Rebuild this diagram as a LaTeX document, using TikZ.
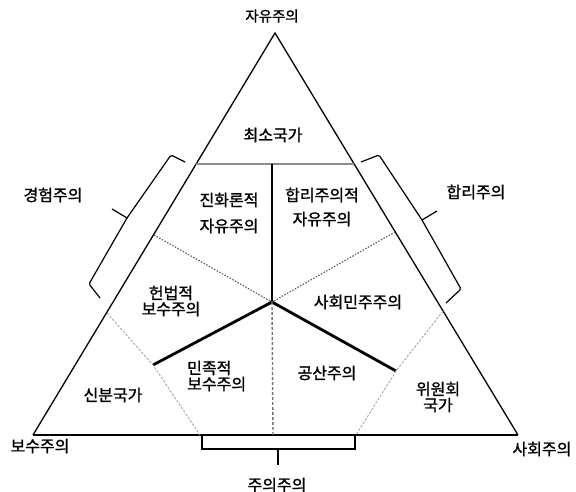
\documentclass[tikz,border=0pt]{standalone}
\usepackage{fontspec}
\newfontfamily\kr[FakeBold=1.2]{Noto Sans CJK KR}
\begin{document}
\begin{tikzpicture}[x=1pt,y=-1pt,
  lbl/.style={font=\kr\fontsize{16}{16}\selectfont, inner sep=0pt, align=center},
  side/.style={line width=1.3pt, black},
  base/.style={line width=1.8pt, black},
  topbar/.style={line width=2pt, black!45},
  axis/.style={line width=1.6pt, black},
  heavy/.style={line width=2.8pt, black},
  dotline/.style={line width=1.1pt, black!65, dash pattern=on 1.5pt off 1.5pt},
  dashline/.style={line width=1.4pt, black!55, dash pattern=on 3pt off 2pt},
  gline/.style={line width=0.9pt, black!35, dash pattern=on 2.5pt off 1.5pt},
  brace/.style={line width=1.2pt, black, rounded corners=1.5pt}]
\useasboundingbox (0,0) rectangle (576,492);
% key points
\coordinate (A) at (275,33);
\coordinate (L) at (33,435);
\coordinate (R) at (518,435);
\coordinate (HL) at (196,164);
\coordinate (HR) at (354,164);
\coordinate (HT) at (272,164);
\coordinate (C) at (272,302);
\coordinate (BL) at (153,365);
\coordinate (BR) at (396,371);
\coordinate (DL) at (154,235);
\coordinate (DR) at (395,232);
\coordinate (GL) at (107,313);
\coordinate (GR) at (443,311);
\coordinate (BB) at (273,435);
\coordinate (GLb) at (200,435);
\coordinate (GRb) at (356,435);
% triangle
\draw[side] (L) -- (A) -- (R);
\draw[base] (L) -- (R);
% inner lines
\draw[topbar] (HL) -- (HR);
\draw[axis] (HT) -- (C);
\draw[heavy] (BL) -- (C) -- (BR);
\draw[dotline] (DL) -- (C) -- (DR);
\draw[dashline] (C) -- (BB);
\draw[gline] (GL) -- (BL) -- (GLb);
\draw[gline] (GR) -- (BR) -- (GRb);
% left brace
\coordinate (lb1) at (185,162);
\coordinate (lb2) at (171,155);
\coordinate (lbt) at (127,218);
\coordinate (lbx) at (112,209);
\coordinate (lb3) at (89,284);
\coordinate (lb4) at (100,298);
\draw[brace] (lb1) -- (lb2) -- (lbt) -- (lb3) -- (lb4);
\draw[brace] (lbx) -- (lbt);
% right brace
\coordinate (rb1) at (361,162);
\coordinate (rb2) at (379,155);
\coordinate (rbt) at (422,220);
\coordinate (rbx) at (437,211);
\coordinate (rb3) at (461,289);
\coordinate (rb4) at (446,303);
\draw[brace] (rb1) -- (rb2) -- (rbt) -- (rb3) -- (rb4);
\draw[brace] (rbx) -- (rbt);
% bottom bracket
\coordinate (bb1) at (202,435);
\coordinate (bb2) at (202,449);
\coordinate (bb3) at (355,449);
\coordinate (bb4) at (355,435);
\coordinate (bbt) at (278,449);
\coordinate (bbx) at (278,465);
\draw[line width=1.2pt] (bb1) -- (bb2) -- (bb3) -- (bb4);
\draw[line width=1.6pt] (bbt) -- (bbx);
% labels
\node[lbl, font=\kr\fontsize{14.5}{15}\selectfont] (t1) at (272,16) {자유주의};
\node[lbl] (t2) at (273,135) {최소국가};
\node[lbl] (t3) at (53,195) {경험주의};
\node[lbl] (t4) at (476,192) {합리주의};
\node[lbl, font=\kr\fontsize{16}{26}\selectfont] (t5) at (229,213) {진화론적\\자유주의};
\node[lbl, font=\kr\fontsize{16}{24}\selectfont] (t6) at (322,207) {합리주의적\\자유주의};
\node[lbl] (t7) at (171,301) {헌법적\\보수주의};
\node[lbl] (t8) at (358,302) {사회민주주의};
\node[lbl, align=left, anchor=west] (t9) at (187,376) {민족적\\보수주의};
\node[lbl] (t10) at (327,373) {공산주의};
\node[lbl] (t11) at (113,395) {신분국가};
\node[lbl] (t12) at (438,397) {위원회\\국가};
\node[lbl] (t13) at (40,446) {보수주의};
\node[lbl] (t14) at (542,449) {사회주의};
\node[lbl] (t15) at (277,485) {주의주의};
\end{tikzpicture}
\end{document}
